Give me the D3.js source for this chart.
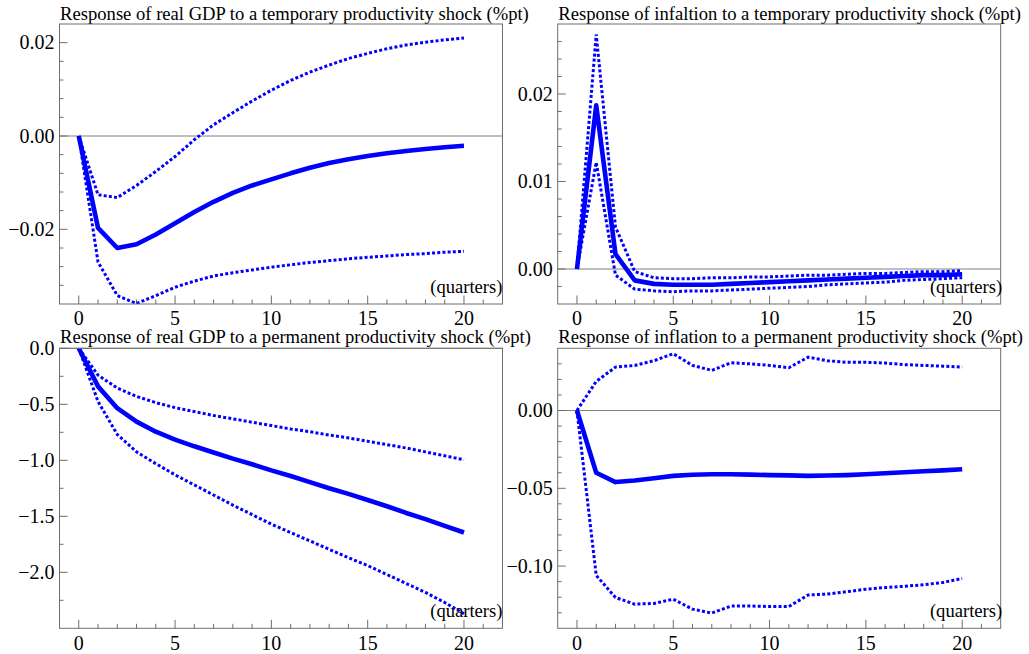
<!DOCTYPE html>
<html><head><meta charset="utf-8">
<script src="https://cdn.jsdelivr.net/npm/d3@7"></script>
<style>
body{margin:0;background:#fff;}
svg text{font-family:"Liberation Serif","Times New Roman",serif;fill:#000;}
</style>
</head><body>
<svg id="chart" width="1029" height="654"></svg>
<script>
// ---------- data ----------
const quarters = [0,1,2,3,4,5,6,7,8,9,10,11,12,13,14,15,16,17,18,19,20];

// real GDP, temporary productivity shock
const gdpTempMean  = [0,-0.0197,-0.0240,-0.0232,-0.0211,-0.0187,-0.0163,-0.0141,-0.0122,-0.0106,-0.0093,-0.0080,-0.0068,-0.0058,-0.0050,-0.0043,-0.0037,-0.0032,-0.0028,-0.0024,-0.0021];
const gdpTempUpper = [0,-0.0126,-0.0132,-0.0106,-0.0076,-0.0044,-0.0008,0.0024,0.0050,0.0075,0.0098,0.0119,0.0137,0.0152,0.0166,0.0177,0.0187,0.0195,0.0201,0.0206,0.0210];
const gdpTempLower = [0,-0.0270,-0.0342,-0.0359,-0.0342,-0.0324,-0.0311,-0.0300,-0.0293,-0.0287,-0.0281,-0.0276,-0.0271,-0.0267,-0.0263,-0.0260,-0.0257,-0.0254,-0.0252,-0.0249,-0.0247];

// inflation, temporary productivity shock
const infTempMean  = [0,0.0187,0.0017,-0.0013,-0.0017,-0.0018,-0.0018,-0.0018,-0.0017,-0.0016,-0.0015,-0.0014,-0.0013,-0.0012,-0.0011,-0.0010,-0.0009,-0.0008,-0.0007,-0.0007,-0.0006];
const infTempUpper = [0,0.0268,0.0048,-0.0003,-0.0010,-0.0011,-0.0011,-0.0010,-0.0010,-0.0009,-0.0009,-0.0008,-0.0007,-0.0007,-0.0006,-0.0005,-0.0005,-0.0004,-0.0003,-0.0003,-0.0002];
const infTempLower = [0,0.0122,-0.0007,-0.0023,-0.0025,-0.0026,-0.0025,-0.0025,-0.0024,-0.0023,-0.0022,-0.0021,-0.0020,-0.0018,-0.0017,-0.0016,-0.0015,-0.0013,-0.0012,-0.0011,-0.0010];

// real GDP, permanent productivity shock
const gdpPermMean  = [0,-0.34,-0.535,-0.655,-0.745,-0.815,-0.875,-0.93,-0.985,-1.035,-1.09,-1.14,-1.195,-1.25,-1.30,-1.355,-1.41,-1.47,-1.525,-1.585,-1.645];
const gdpPermUpper = [0,-0.24,-0.355,-0.43,-0.485,-0.53,-0.565,-0.60,-0.63,-0.66,-0.69,-0.72,-0.745,-0.775,-0.80,-0.83,-0.86,-0.89,-0.925,-0.96,-0.995];
const gdpPermLower = [0,-0.475,-0.77,-0.925,-1.03,-1.13,-1.22,-1.31,-1.40,-1.485,-1.57,-1.645,-1.72,-1.795,-1.87,-1.94,-2.02,-2.10,-2.18,-2.27,-2.37];

// inflation, permanent productivity shock
const infPermMean  = [0,-0.040,-0.046,-0.045,-0.0435,-0.042,-0.0413,-0.041,-0.041,-0.0412,-0.0415,-0.0417,-0.042,-0.0418,-0.0415,-0.041,-0.0403,-0.0397,-0.039,-0.0385,-0.0378];
const infPermUpper = [0,0.0187,0.0279,0.0290,0.0320,0.0365,0.0290,0.0258,0.0307,0.0300,0.0290,0.0275,0.0343,0.0320,0.0310,0.0310,0.0305,0.0295,0.0290,0.0285,0.0279];
const infPermLower = [0,-0.106,-0.1202,-0.1245,-0.124,-0.1213,-0.1277,-0.1302,-0.1257,-0.1257,-0.126,-0.126,-0.1186,-0.118,-0.1165,-0.1149,-0.1138,-0.113,-0.112,-0.1105,-0.108];

const titles = [
  "Response of real GDP to a temporary productivity shock (%pt)",
  "Response of infaltion to a temporary productivity shock (%pt)",
  "Response of real GDP to a permanent productivity shock (%pt)",
  "Response of inflation to a permanent productivity shock (%pt)"
];
const xLabel = "(quarters)";

const xMajorTicks = [0,5,10,15,20];
const xMinorTicks = [1,2,3,4,6,7,8,9,11,12,13,14,16,17,18,19,21];

const p1YMajor = [-0.02,0,0.02];
const p1YLabels = ["\u22120.02","0.00","0.02"];
const p1YMinor = [-0.032,-0.028,-0.024,-0.016,-0.012,-0.008,-0.004,0.004,0.008,0.012,0.016];

const p2YMajor = [0,0.01,0.02];
const p2YLabels = ["0.00","0.01","0.02"];
const p2YMinor = [-0.002,0.002,0.004,0.006,0.008,0.012,0.014,0.016,0.018,0.022,0.024,0.026];

const p3YMajor = [0,-0.5,-1.0,-1.5,-2.0];
const p3YLabels = ["0.0","\u22120.5","\u22121.0","\u22121.5","\u22122.0"];
const p3YMinor = [-0.25,-0.75,-1.25,-1.75,-2.25];

const p4YMajor = [0,-0.05,-0.10];
const p4YLabels = ["0.00","\u22120.05","\u22120.10"];
const p4YMinor = [0.03,0.02,0.01,-0.01,-0.02,-0.03,-0.04,-0.06,-0.07,-0.08,-0.09,-0.11,-0.12,-0.13];

// ---------- layout ----------
const panels = [
  {title:titles[0], box:[59.5,502.5,24,304],     ydom:[-0.036,0.024], yMaj:p1YMajor, yLab:p1YLabels, yMin:p1YMinor, mean:gdpTempMean, up:gdpTempUpper, lo:gdpTempLower},
  {title:titles[1], box:[557.7,1000.7,24,304],   ydom:[-0.004,0.028], yMaj:p2YMajor, yLab:p2YLabels, yMin:p2YMinor, mean:infTempMean, up:infTempUpper, lo:infTempLower},
  {title:titles[2], box:[59.5,502.5,348.3,628.3],ydom:[-2.5,0],       yMaj:p3YMajor, yLab:p3YLabels, yMin:p3YMinor, mean:gdpPermMean, up:gdpPermUpper, lo:gdpPermLower},
  {title:titles[3], box:[557.7,1000.7,348.3,628.3],ydom:[-0.14,0.04], yMaj:p4YMajor, yLab:p4YLabels, yMin:p4YMinor, mean:infPermMean, up:infPermUpper, lo:infPermLower}
];

const svg = d3.select("#chart");
const BLUE = "#0000ff";
const AXIS = "#6e6e6e";
const FS = 18.6;   // titles / x label
const TFS = 20;    // tick labels

panels.forEach((p,i) => {
  const [x0,x1,y0,y1] = p.box;
  const x = d3.scaleLinear().domain([-1,22]).range([x0,x1]);
  const y = d3.scaleLinear().domain(p.ydom).range([y1,y0]);
  const g = svg.append("g");
  const clipId = "clip"+i;
  svg.append("clipPath").attr("id",clipId).append("rect")
    .attr("x",x0).attr("y",y0).attr("width",x1-x0).attr("height",y1-y0);

  // title
  g.append("text").attr("x",x0+0.6).attr("y",y0 - (i<2 ? 4.3 : 5.5)).attr("font-size",FS).text(p.title);

  // zero line
  g.append("line").attr("x1",x0).attr("x2",x1).attr("y1",y(0)).attr("y2",y(0))
    .attr("stroke","#808080").attr("stroke-width",1);

  // x ticks (inward, from bottom)
  xMajorTicks.forEach(t => {
    g.append("line").attr("x1",x(t)).attr("x2",x(t)).attr("y1",y1).attr("y2",y1-8.5)
      .attr("stroke",AXIS).attr("stroke-width",1);
    g.append("text").attr("x",x(t)).attr("y",y1 + (i<2 ? 20.8 : 21.5)).attr("text-anchor","middle")
      .attr("font-size",TFS).text(d3.format("d")(t));
  });
  xMinorTicks.forEach(t => {
    g.append("line").attr("x1",x(t)).attr("x2",x(t)).attr("y1",y1).attr("y2",y1-4.5)
      .attr("stroke",AXIS).attr("stroke-width",1);
  });

  // y ticks (inward, from left)
  p.yMaj.forEach((t,k) => {
    g.append("line").attr("x1",x0).attr("x2",x0+8).attr("y1",y(t)).attr("y2",y(t))
      .attr("stroke",AXIS).attr("stroke-width",1);
    g.append("text").attr("x",x0-5).attr("y",y(t)).attr("dy","0.33em")
      .attr("text-anchor","end").attr("font-size",TFS).text(p.yLab[k]);
  });
  p.yMin.forEach(t => {
    g.append("line").attr("x1",x0).attr("x2",x0+4).attr("y1",y(t)).attr("y2",y(t))
      .attr("stroke",AXIS).attr("stroke-width",1);
  });

  // lines
  const line = d3.line().x((d,k)=>x(quarters[k])).y(d=>y(d));
  const lg = g.append("g").attr("clip-path",`url(#${clipId})`);
  [p.up,p.lo].forEach(arr => {
    lg.append("path").datum(arr).attr("d",line).attr("fill","none")
      .attr("stroke",BLUE).attr("stroke-width",3).attr("stroke-dasharray","3,2.2");
  });
  lg.append("path").datum(p.mean).attr("d",line).attr("fill","none")
    .attr("stroke",BLUE).attr("stroke-width",4.6).attr("stroke-linejoin","round");

  // frame
  g.append("rect").attr("x",x0).attr("y",y0).attr("width",x1-x0).attr("height",y1-y0)
    .attr("fill","none").attr("stroke",AXIS).attr("stroke-width",1);

  // x label
  g.append("text").attr("x", i%2===0 ? x1 : x1+1.5).attr("y",y1-11)
    .attr("text-anchor","end").attr("font-size",FS).text(xLabel);
});
</script>
</body></html>
